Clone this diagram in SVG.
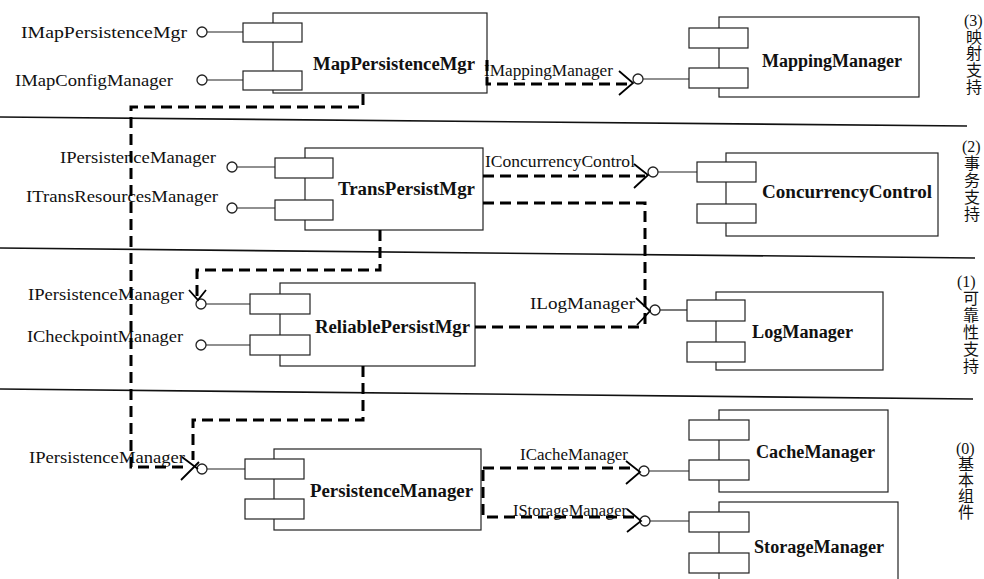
<svg xmlns="http://www.w3.org/2000/svg" width="984" height="579" viewBox="0 0 984 579">
<style>
.bg{fill:#fff}
.sep{stroke:#111;stroke-width:1.6;fill:none}
.box{fill:#fff;stroke:#222;stroke-width:1.2}
.ln{stroke:#222;stroke-width:1.2}
.lol{fill:#fff;stroke:#222;stroke-width:1.3}
.lbl{font-family:"Liberation Serif","Times New Roman",serif;font-size:17px;fill:#111}
.name{font-family:"Liberation Serif","Times New Roman",serif;font-size:18px;font-weight:bold;fill:#111}
.cjk{font-family:"Liberation Serif","Noto Sans CJK SC",serif;font-size:16px;fill:#111}
.dash{fill:none;stroke:#000;stroke-width:3;stroke-dasharray:11 6}
.arr{fill:none;stroke:#000;stroke-width:1.8}
</style>
<rect class="bg" x="0" y="0" width="984" height="579"/>

<g id="layers">
<line class="sep" x1="0" y1="117" x2="967" y2="126"/>
<line class="sep" x1="0" y1="248" x2="975" y2="258"/>
<line class="sep" x1="0" y1="389" x2="973" y2="399"/>
<text class="cjk"><tspan x="964" y="26">(3)</tspan><tspan x="966" y="43">映</tspan><tspan x="966" y="59">射</tspan><tspan x="966" y="76">支</tspan><tspan x="966" y="93">持</tspan></text>
<text class="cjk"><tspan x="962" y="152">(2)</tspan><tspan x="964" y="169">事</tspan><tspan x="964" y="186">务</tspan><tspan x="964" y="203">支</tspan><tspan x="964" y="220">持</tspan></text>
<text class="cjk"><tspan x="957" y="287">(1)</tspan><tspan x="963" y="304">可</tspan><tspan x="963" y="321">靠</tspan><tspan x="963" y="338">性</tspan><tspan x="963" y="355">支</tspan><tspan x="963" y="372">持</tspan></text>
<text class="cjk"><tspan x="956" y="454">(0)</tspan><tspan x="958" y="470">基</tspan><tspan x="958" y="486">本</tspan><tspan x="958" y="502">组</tspan><tspan x="958" y="518">件</tspan></text>
</g>

<g id="MapPersistenceMgr">
<rect class="box" x="273" y="13" width="214" height="80"/>
<rect class="box" x="243" y="23" width="59" height="19"/>
<rect class="box" x="243" y="71" width="59" height="19"/>
<line class="ln" x1="207" y1="32" x2="243" y2="32"/>
<line class="ln" x1="207" y1="80" x2="243" y2="80"/>
<circle class="lol" cx="202" cy="32" r="5"/>
<circle class="lol" cx="202" cy="80" r="5"/>
<text class="lbl" x="21" y="38" textLength="166" lengthAdjust="spacingAndGlyphs">IMapPersistenceMgr</text>
<text class="lbl" x="15" y="86" textLength="158" lengthAdjust="spacingAndGlyphs">IMapConfigManager</text>
<text class="name" x="313" y="70" textLength="162" lengthAdjust="spacingAndGlyphs">MapPersistenceMgr</text>
</g>

<g id="MappingManager">
<rect class="box" x="719" y="17" width="200" height="80"/>
<rect class="box" x="689" y="28" width="59" height="20"/>
<rect class="box" x="689" y="68" width="59" height="20"/>
<line class="ln" x1="643" y1="79" x2="689" y2="79"/>
<circle class="lol" cx="638" cy="79" r="5"/>
<text class="lbl" x="484" y="76" textLength="129" lengthAdjust="spacingAndGlyphs">IMappingManager</text>
<text class="name" x="762" y="67" textLength="140" lengthAdjust="spacingAndGlyphs">MappingManager</text>
</g>

<g id="TransPersistMgr">
<rect class="box" x="305" y="148" width="178" height="82"/>
<rect class="box" x="275" y="158" width="58" height="20"/>
<rect class="box" x="275" y="200" width="58" height="20"/>
<line class="ln" x1="237" y1="167" x2="275" y2="167"/>
<line class="ln" x1="237" y1="208" x2="275" y2="208"/>
<circle class="lol" cx="232" cy="167" r="5"/>
<circle class="lol" cx="232" cy="208" r="5"/>
<text class="lbl" x="60" y="163" textLength="156" lengthAdjust="spacingAndGlyphs">IPersistenceManager</text>
<text class="lbl" x="26" y="202" textLength="192" lengthAdjust="spacingAndGlyphs">ITransResourcesManager</text>
<text class="name" x="338" y="195" textLength="137" lengthAdjust="spacingAndGlyphs">TransPersistMgr</text>
</g>

<g id="ConcurrencyControl">
<rect class="box" x="726" y="153" width="212" height="83"/>
<rect class="box" x="697" y="162" width="59" height="20"/>
<rect class="box" x="697" y="204" width="59" height="19"/>
<line class="ln" x1="658" y1="172" x2="697" y2="172"/>
<circle class="lol" cx="653" cy="172" r="5"/>
<text class="lbl" x="485" y="167" textLength="150" lengthAdjust="spacingAndGlyphs">IConcurrencyControl</text>
<text class="name" x="762" y="198" textLength="170" lengthAdjust="spacingAndGlyphs">ConcurrencyControl</text>
</g>

<g id="ReliablePersistMgr">
<rect class="box" x="280" y="283" width="195" height="83"/>
<rect class="box" x="250" y="294" width="60" height="20"/>
<rect class="box" x="250" y="335" width="60" height="20"/>
<line class="ln" x1="206" y1="304" x2="250" y2="304"/>
<line class="ln" x1="206" y1="345" x2="250" y2="345"/>
<circle class="lol" cx="201" cy="304" r="5"/>
<circle class="lol" cx="201" cy="345" r="5"/>
<text class="lbl" x="28" y="300" textLength="156" lengthAdjust="spacingAndGlyphs">IPersistenceManager</text>
<text class="lbl" x="27" y="342" textLength="156" lengthAdjust="spacingAndGlyphs">ICheckpointManager</text>
<text class="name" x="315" y="333" textLength="155" lengthAdjust="spacingAndGlyphs">ReliablePersistMgr</text>
</g>

<g id="LogManager">
<rect class="box" x="716" y="292" width="167" height="78"/>
<rect class="box" x="687" y="300" width="58" height="21"/>
<rect class="box" x="687" y="342" width="58" height="20"/>
<line class="ln" x1="660" y1="310" x2="687" y2="310"/>
<circle class="lol" cx="655" cy="310" r="5"/>
<text class="lbl" x="530" y="309" textLength="105" lengthAdjust="spacingAndGlyphs">ILogManager</text>
<text class="name" x="752" y="338" textLength="101" lengthAdjust="spacingAndGlyphs">LogManager</text>
</g>

<g id="PersistenceManager">
<rect class="box" x="274" y="449" width="207" height="81"/>
<rect class="box" x="245" y="459" width="59" height="20"/>
<rect class="box" x="245" y="499" width="59" height="20"/>
<line class="ln" x1="207" y1="469" x2="245" y2="469"/>
<circle class="lol" cx="202" cy="469" r="5"/>
<text class="lbl" x="29" y="463" textLength="156" lengthAdjust="spacingAndGlyphs">IPersistenceManager</text>
<text class="name" x="310" y="497" textLength="163" lengthAdjust="spacingAndGlyphs">PersistenceManager</text>
</g>

<g id="CacheManager">
<rect class="box" x="719" y="410" width="169" height="82"/>
<rect class="box" x="689" y="420" width="60" height="20"/>
<rect class="box" x="689" y="460" width="60" height="20"/>
<line class="ln" x1="649" y1="471" x2="689" y2="471"/>
<circle class="lol" cx="644" cy="471" r="5"/>
<text class="lbl" x="520" y="460" textLength="108" lengthAdjust="spacingAndGlyphs">ICacheManager</text>
<text class="name" x="756" y="458" textLength="119" lengthAdjust="spacingAndGlyphs">CacheManager</text>
</g>

<g id="StorageManager">
<rect class="box" x="719" y="502" width="179" height="95"/>
<rect class="box" x="689" y="512" width="60" height="20"/>
<rect class="box" x="689" y="553" width="60" height="20"/>
<line class="ln" x1="650" y1="521" x2="689" y2="521"/>
<circle class="lol" cx="645" cy="521" r="5"/>
<text class="lbl" x="513" y="516" textLength="114" lengthAdjust="spacingAndGlyphs">IStorageManager</text>
<text class="name" x="754" y="553" textLength="130" lengthAdjust="spacingAndGlyphs">StorageManager</text>
</g>

<g id="connectors">
<path class="dash" d="M363,94 V107 H131 V467 H188"/>
<path class="dash" d="M487,60 V84 H630"/>
<path class="dash" d="M483,176 H645"/>
<path class="dash" d="M483,203 H645 V327"/>
<path class="dash" d="M475,327 H645"/>
<path class="dash" d="M380,230 V270 H197 V296"/>
<path class="dash" d="M363,366 V420 H193 V460"/>
<path class="dash" d="M483,468 H636"/>
<path class="dash" d="M483,470 V517 H637"/>
<path class="arr" d="M619,71 L633,83 L619,95"/>
<path class="arr" d="M634,164 L648,175 L634,188"/>
<path class="arr" d="M636,298 L650,311 L637,325"/>
<path class="arr" d="M189,290 L198,300 L206,290"/>
<path class="arr" d="M182,457 L198,469 M199,462 L181,480"/>
<path class="arr" d="M626,461 L640,472 L626,484"/>
<path class="arr" d="M627,509 L641,521 L627,532"/>
</g>
</svg>
